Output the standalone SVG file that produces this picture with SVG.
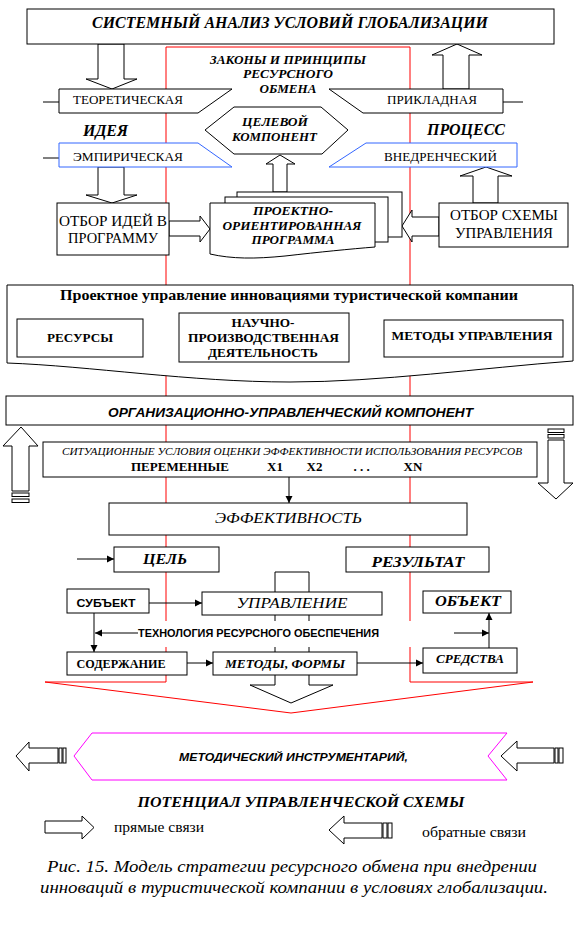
<svg xmlns="http://www.w3.org/2000/svg" width="582" height="934" viewBox="0 0 582 934">
<defs>
<marker id="ah" markerWidth="8" markerHeight="8" refX="7" refY="4" orient="auto-start-reverse" markerUnits="userSpaceOnUse"><path d="M0,0.5 L7,4 L0,7.5 Z" fill="#000"/></marker>
</defs>
<style>
.b{fill:#fff;stroke:#000;stroke-width:1}
.bl{fill:#fff;stroke:#3366ff;stroke-width:1}
.ln{fill:none;stroke:#000;stroke-width:1}
.ar{fill:none;stroke:#000;stroke-width:1;marker-end:url(#ah)}
.ar2{fill:none;stroke:#000;stroke-width:1;marker-start:url(#ah);marker-end:url(#ah)}
.s{font-family:"Liberation Serif","Times New Roman",serif;fill:#000}
.a{font-family:"Liberation Sans",Arial,sans-serif;fill:#000}
.bi{font-weight:bold;font-style:italic}
.bd{font-weight:bold}
.it{font-style:italic}
.m{text-anchor:middle}
</style>
<rect width="582" height="934" fill="#fff"/>

<g id="red-frame">
<path d="M166,682 V47 H410 V682 H533 L291,713 L45,682 Z" fill="none" stroke="#ff0000" stroke-width="1"/>
</g>

<g id="connectors">
<polygon class="b" points="98,44 124,44 124,79 137,79 112,89 86,79 98,79"/>
<polygon class="b" points="98,167 124,167 124,195 137,195 112,203 86,195 98,195"/>
<polygon class="b" points="169,221 200,221 200,216 210,229 200,242 200,236 169,236"/>
<polygon class="b" points="273,192 273,164 266,164 280,155 295,164 287,164 287,192"/>
<polygon class="b" points="443,89 443,55 432,55 457,44 482,55 469,55 469,89"/>
<polygon class="b" points="473,203 473,176 460,176 486,167 512,176 498,176 498,203"/>
<polygon class="b" points="439,217 412,217 412,210 402,226 412,242 412,236 439,236"/>
<line class="ln" x1="43" y1="102" x2="59" y2="102"/>
<line class="ln" x1="43" y1="158" x2="59" y2="158"/>
<line class="ln" x1="503" y1="102" x2="523" y2="102"/>
<line class="ar2" x1="144" y1="337" x2="178" y2="337"/>
<line class="ar2" x1="350" y1="337" x2="383" y2="337"/>
<polygon class="b" points="12,491 12,446 3,446 21,427 38,446 29,446 29,491"/>
<rect class="b" x="12" y="493" width="17" height="3.5"/>
<rect class="b" x="12" y="499" width="17" height="3.5"/>
<rect class="b" x="548" y="429" width="16" height="3.5"/>
<rect class="b" x="548" y="434.5" width="16" height="3.5"/>
<polygon class="b" points="548,440 564,440 564,483 573,483 556,499 538,483 548,483"/>
<line class="ar" x1="289" y1="477" x2="289" y2="503"/>
<line class="ar" x1="77" y1="559" x2="114" y2="559"/>
<polygon class="b" points="275,572 309,572 309,685 333,685 291,703 250,685 275,685"/>
<line class="ar" x1="149" y1="603" x2="202" y2="603"/>
<line class="ar" x1="94" y1="613" x2="94" y2="652"/>
<line class="ar" x1="187" y1="663" x2="213" y2="663"/>
<line class="ar" x1="357" y1="663" x2="423" y2="663"/>
<line class="ar" x1="489" y1="648" x2="489" y2="613"/>
<line class="ar" x1="454" y1="633" x2="489" y2="633"/>
<polygon class="b" points="58,748 29,748 29,742 16,756 29,771 29,763 58,763"/>
<rect class="b" x="59" y="748" width="3" height="15"/>
<rect class="b" x="63" y="748" width="3" height="15"/>
<polygon class="b" points="554,748 517,748 517,741 501,756 517,771 517,763 554,763"/>
<rect class="b" x="555" y="748" width="3" height="15"/>
<rect class="b" x="559" y="748" width="4" height="15"/>
</g>

<g id="n-top">
<rect class="b" x="27" y="9" width="527" height="35"/>
<text class="s bi m" x="290" y="28" font-size="16" textLength="396" lengthAdjust="spacingAndGlyphs">СИСТЕМНЫЙ АНАЛИЗ УСЛОВИЙ ГЛОБАЛИЗАЦИИ</text>
</g>
<g id="n-laws">
<text class="s bi m" x="288" y="64" font-size="12" textLength="156" lengthAdjust="spacingAndGlyphs">ЗАКОНЫ И ПРИНЦИПЫ</text>
<text class="s bi m" x="288" y="78" font-size="12" textLength="90" lengthAdjust="spacingAndGlyphs">РЕСУРСНОГО</text>
<text class="s bi m" x="288" y="93" font-size="12" textLength="57" lengthAdjust="spacingAndGlyphs">ОБМЕНА</text>
</g>
<g id="n-theor">
<polygon class="b" points="59,89 232,89 198,113 59,113"/>
<text class="s m" x="128" y="104" font-size="13" textLength="110" lengthAdjust="spacingAndGlyphs">ТЕОРЕТИЧЕСКАЯ</text>
</g>
<g id="n-empir">
<polygon class="bl" points="59,143 198,143 232,167 59,167"/>
<text class="s m" x="128" y="161" font-size="13" textLength="110" lengthAdjust="spacingAndGlyphs">ЭМПИРИЧЕСКАЯ</text>
</g>
<g id="n-idea">
<text class="s bi m" x="105.5" y="136" font-size="16" textLength="45" lengthAdjust="spacingAndGlyphs">ИДЕЯ</text>
</g>
<g id="n-applied">
<polygon class="b" points="329,89 503,89 503,113 363,113"/>
<text class="s m" x="432" y="104" font-size="13" textLength="90" lengthAdjust="spacingAndGlyphs">ПРИКЛАДНАЯ</text>
</g>
<g id="n-impl">
<polygon class="bl" points="366,143 517,143 517,167 329,167"/>
<text class="s m" x="440.5" y="161" font-size="13" textLength="113" lengthAdjust="spacingAndGlyphs">ВНЕДРЕНЧЕСКИЙ</text>
</g>
<g id="n-process">
<text class="s bi m" x="466" y="135" font-size="16" textLength="78" lengthAdjust="spacingAndGlyphs">ПРОЦЕСС</text>
</g>
<g id="n-target">
<polygon class="b" points="205,130 234,107 321,107 348,130 322,154 234,154"/>
<text class="s bi m" x="275" y="126" font-size="12" textLength="66" lengthAdjust="spacingAndGlyphs">ЦЕЛЕВОЙ</text>
<text class="s bi m" x="274.5" y="141" font-size="12" textLength="85" lengthAdjust="spacingAndGlyphs">КОМПОНЕНТ</text>
</g>
<g id="n-select-ideas">
<rect class="b" x="57" y="203" width="112" height="52"/>
<text class="s m" x="113" y="226" font-size="14" textLength="108" lengthAdjust="spacingAndGlyphs">ОТБОР  ИДЕЙ В</text>
<text class="s m" x="113" y="243" font-size="14" textLength="90" lengthAdjust="spacingAndGlyphs">ПРОГРАММУ</text>
</g>
<g id="n-program">
<rect class="b" x="237" y="192" width="165" height="45"/>
<rect class="b" x="225" y="197" width="163" height="45"/>
<path class="b" d="M210,203 H375 V247 C350,249 320,252 285,256 C255,259 232,259 210,254 Z"/>
<text class="s bi m" x="293" y="215" font-size="12" textLength="80" lengthAdjust="spacingAndGlyphs">ПРОЕКТНО-</text>
<text class="s bi m" x="292" y="230" font-size="12" textLength="139" lengthAdjust="spacingAndGlyphs">ОРИЕНТИРОВАННАЯ</text>
<text class="s bi m" x="293" y="244" font-size="12" textLength="83" lengthAdjust="spacingAndGlyphs">ПРОГРАММА</text>
</g>
<g id="n-select-scheme">
<rect class="b" x="439" y="203" width="129" height="44"/>
<text class="s m" x="504" y="220" font-size="15" textLength="108" lengthAdjust="spacingAndGlyphs">ОТБОР СХЕМЫ</text>
<text class="s m" x="504" y="238" font-size="15" textLength="98" lengthAdjust="spacingAndGlyphs">УПРАВЛЕНИЯ</text>
</g>
<g id="n-project-mgmt">
<path class="b" d="M7,285 H573 V361 C480,368 380,382 290,382 C190,382 90,366 7,363 Z"/>
<text class="s bd m" x="289" y="300" font-size="14" textLength="458" lengthAdjust="spacingAndGlyphs">Проектное управление инновациями туристической компании</text>
</g>
<g id="n-resources">
<rect class="b" x="17" y="319" width="126" height="38"/>
<text class="s bd m" x="80" y="342" font-size="12" textLength="66" lengthAdjust="spacingAndGlyphs">РЕСУРСЫ</text>
</g>
<g id="n-science">
<rect class="b" x="179" y="313" width="170" height="49"/>
<text class="s bd m" x="263" y="327" font-size="13" textLength="63" lengthAdjust="spacingAndGlyphs">НАУЧНО-</text>
<text class="s bd m" x="263.5" y="342" font-size="13" textLength="151" lengthAdjust="spacingAndGlyphs">ПРОИЗВОДСТВЕННАЯ</text>
<text class="s bd m" x="263" y="357" font-size="13" textLength="110" lengthAdjust="spacingAndGlyphs">ДЕЯТЕЛЬНОСТЬ</text>
</g>
<g id="n-methods-mgmt">
<rect class="b" x="384" y="320" width="179" height="37"/>
<text class="s bd m" x="472" y="340" font-size="13" textLength="161" lengthAdjust="spacingAndGlyphs">МЕТОДЫ УПРАВЛЕНИЯ</text>
</g>
<g id="n-org">
<rect class="b" x="6" y="396" width="567" height="29"/>
<text class="a bi m" x="290.5" y="417" font-size="13" textLength="365" lengthAdjust="spacingAndGlyphs">ОРГАНИЗАЦИОННО-УПРАВЛЕНЧЕСКИЙ КОМПОНЕНТ</text>
</g>
<g id="n-situation">
<rect class="b" x="43" y="442" width="494" height="35"/>
<text class="s it m" x="292" y="455" font-size="11" textLength="460" lengthAdjust="spacingAndGlyphs">СИТУАЦИОННЫЕ УСЛОВИЯ ОЦЕНКИ ЭФФЕКТИВНОСТИ ИСПОЛЬЗОВАНИЯ РЕСУРСОВ</text>
<text class="s bd m" x="180" y="471" font-size="13" textLength="98" lengthAdjust="spacingAndGlyphs">ПЕРЕМЕННЫЕ</text>
<text class="s bd m" x="275" y="471" font-size="13">X1</text>
<text class="s bd m" x="314.5" y="471" font-size="13">X2</text>
<text class="s bd m" x="361.5" y="471" font-size="13">. . .</text>
<text class="s bd m" x="413" y="471" font-size="13">XN</text>
</g>
<g id="n-efficiency">
<rect class="b" x="109" y="503" width="358" height="32"/>
<text class="s it m" x="288.5" y="523" font-size="15" textLength="147" lengthAdjust="spacingAndGlyphs">ЭФФЕКТИВНОСТЬ</text>
</g>
<g id="n-goal">
<rect class="b" x="114" y="547" width="105" height="25"/>
<text class="s bi m" x="165" y="564" font-size="14" textLength="44" lengthAdjust="spacingAndGlyphs">ЦЕЛЬ</text>
</g>
<g id="n-result">
<rect class="b" x="346" y="547" width="143" height="25"/>
<text class="s bi m" x="418" y="567" font-size="14" textLength="93" lengthAdjust="spacingAndGlyphs">РЕЗУЛЬТАТ</text>
</g>
<g id="n-subject">
<rect class="b" x="67" y="589" width="82" height="24"/>
<text class="a bd m" x="106" y="607" font-size="11" textLength="59" lengthAdjust="spacingAndGlyphs">СУБЪЕКТ</text>
</g>
<g id="n-management">
<rect class="b" x="202" y="592" width="180" height="23"/>
<text class="s it m" x="292" y="608" font-size="15" textLength="111" lengthAdjust="spacingAndGlyphs">УПРАВЛЕНИЕ</text>
</g>
<g id="n-object">
<rect class="b" x="423" y="591" width="88" height="22"/>
<text class="s bi m" x="468" y="606" font-size="14" textLength="66" lengthAdjust="spacingAndGlyphs">ОБЪЕКТ</text>
</g>
<g id="n-technology">
<rect x="136" y="621" width="280" height="26" fill="#fff"/>
<line class="ar" x1="138" y1="633" x2="95" y2="633"/>
<text class="a bd" x="138" y="637" font-size="10" textLength="241" lengthAdjust="spacingAndGlyphs">ТЕХНОЛОГИЯ  РЕСУРСНОГО ОБЕСПЕЧЕНИЯ</text>
</g>
<g id="n-content">
<rect class="b" x="67" y="652" width="120" height="23"/>
<text class="s bd m" x="121" y="668" font-size="12" textLength="89" lengthAdjust="spacingAndGlyphs">СОДЕРЖАНИЕ</text>
</g>
<g id="n-methods-forms">
<rect class="b" x="213" y="652" width="144" height="23"/>
<text class="s bi m" x="285" y="668" font-size="13" textLength="120" lengthAdjust="spacingAndGlyphs">МЕТОДЫ, ФОРМЫ</text>
</g>
<g id="n-means">
<rect class="b" x="423" y="648" width="94" height="25"/>
<text class="s bi m" x="470" y="663" font-size="12" textLength="68" lengthAdjust="spacingAndGlyphs">СРЕДСТВА</text>
</g>
<g id="n-toolkit">
<polygon points="92,733 507,733 488,756 507,780 92,780 74,756" fill="#fff" stroke="#ff00ff" stroke-width="1"/>
<text class="a bi m" x="293.5" y="761" font-size="11" textLength="229" lengthAdjust="spacingAndGlyphs">МЕТОДИЧЕСКИЙ ИНСТРУМЕНТАРИЙ,</text>
</g>
<g id="n-potential">
<text class="s bi m" x="301" y="807" font-size="15" textLength="327" lengthAdjust="spacingAndGlyphs">ПОТЕНЦИАЛ УПРАВЛЕНЧЕСКОЙ СХЕМЫ</text>
</g>
<g id="legend">
<polygon class="b" points="45,821 82,821 82,816 94,827.5 82,839 82,833 45,833"/>
<text class="s" x="114" y="832" font-size="14" textLength="90" lengthAdjust="spacingAndGlyphs">прямые связи</text>
<polygon class="b" points="382,823 344,823 344,816 329,830 344,844 344,838 382,838"/>
<rect class="b" x="383" y="823" width="4" height="15"/>
<rect class="b" x="388" y="823" width="4" height="15"/>
<text class="s" x="422" y="837" font-size="14" textLength="104" lengthAdjust="spacingAndGlyphs">обратные связи</text>
</g>
<g id="caption">
<text class="s it m" x="292" y="872" font-size="16" textLength="490" lengthAdjust="spacingAndGlyphs">Рис. 15. Модель стратегии ресурсного обмена при внедрении</text>
<text class="s it m" x="294" y="893" font-size="16" textLength="508" lengthAdjust="spacingAndGlyphs">инноваций в туристической компании в условиях глобализации.</text>
</g>
</svg>
